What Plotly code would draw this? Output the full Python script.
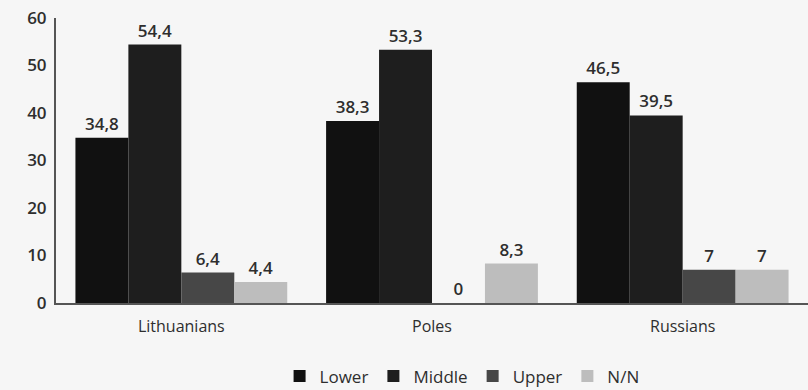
import plotly.graph_objects as go

categories = ["Lithuanians", "Poles", "Russians"]
series_names = ["Lower", "Middle", "Upper", "N/N"]
lower = [34.8, 38.3, 46.5]
middle = [54.4, 53.3, 39.5]
upper = [6.4, 0, 7]
nn = [4.4, 8.3, 7]
y_ticks = [0, 10, 20, 30, 40, 50, 60]

colors = ["#111111", "#1e1e1e", "#474747", "#bdbdbd"]
values = [lower, middle, upper, nn]

def fmt(v):
    s = ("%g" % v)
    return s.replace(".", ",")

fig = go.Figure()
for name, vals, c in zip(series_names, values, colors):
    fig.add_trace(go.Bar(
        name=name, x=categories, y=vals,
        marker=dict(color=c, line=dict(width=0)),
        text=[fmt(v) for v in vals], textposition="outside",
        textfont=dict(size=17, color="#2e2e2e", family="Open Sans", weight=600),
        cliponaxis=False,
    ))

fig.update_layout(
    width=808, height=390,
    margin=dict(l=56, r=0, t=18, b=87),
    barmode="group", bargap=0.155, bargroupgap=0,
    paper_bgcolor="#f6f6f6", plot_bgcolor="rgba(0,0,0,0)",
    font=dict(family="Open Sans", color="#2e2e2e"),
    showlegend=True,
    legend=dict(orientation="h", x=0.54, xanchor="center", yref="container", y=0.035, yanchor="middle",
                font=dict(size=17, color="#2e2e2e"), itemwidth=30, traceorder="normal"),
)
fig.update_xaxes(showgrid=False, showline=True, linecolor="#555555", linewidth=2,
                 ticks="", tickfont=dict(size=16, color="#2e2e2e"), ticklabelstandoff=8)
fig.update_yaxes(range=[0, 60], tickvals=y_ticks, showgrid=False, zeroline=False,
                 showline=True, linecolor="#555555", linewidth=2,
                 ticks="", tickfont=dict(size=17, color="#2e2e2e", weight=600), ticklabelstandoff=4)

fig.write_html("out.html")
